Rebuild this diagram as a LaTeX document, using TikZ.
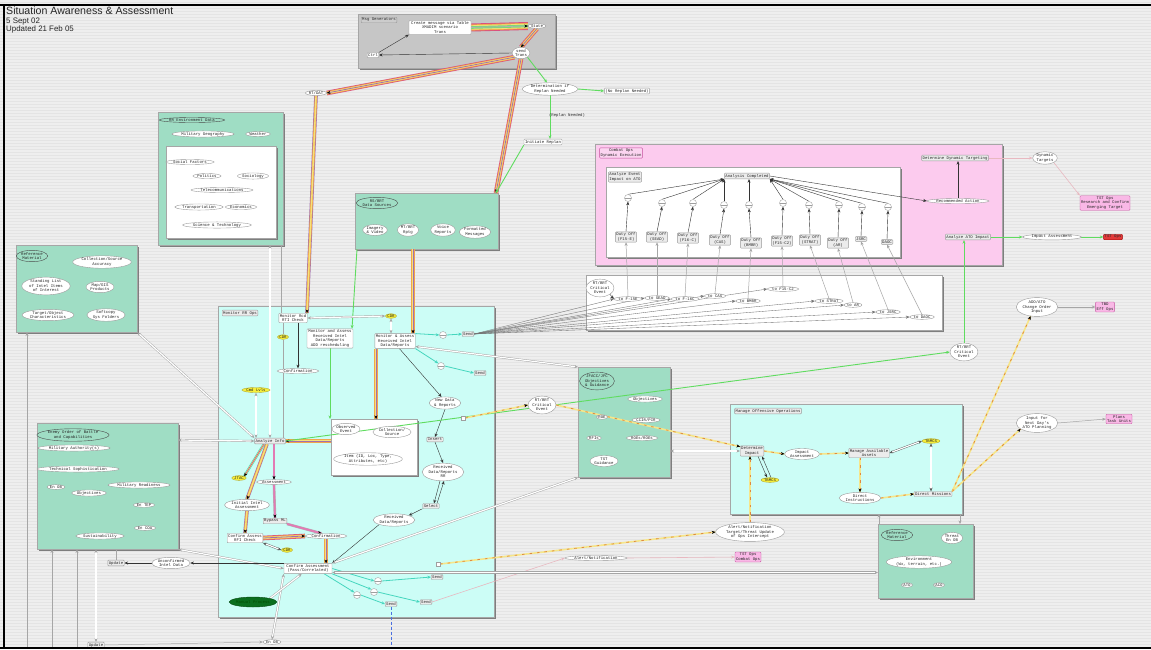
\documentclass[tikz,border=0pt]{standalone}
\usepackage{fontspec}
\newfontfamily\dmono{Liberation Mono}
\newfontfamily\darial{Liberation Sans}
\usetikzlibrary{shapes.geometric,arrows.meta,shadows}
\definecolor{bgc}{HTML}{EEEEEE}
\definecolor{stripe}{HTML}{E4E4E4}
\definecolor{grpg}{HTML}{9FDDC4}
\definecolor{grpc}{HTML}{CCFDF6}
\definecolor{grpp}{HTML}{FCCBEE}
\definecolor{grpgray}{HTML}{C6C6C6}
\definecolor{shd}{HTML}{7E7E7E}
\definecolor{bpink}{HTML}{D9507F}
\definecolor{borange}{HTML}{F2A54A}
\definecolor{byellow}{HTML}{F4E27A}
\definecolor{bpurple}{HTML}{A070B0}
\definecolor{bgreen}{HTML}{7AD77A}
\definecolor{lgreen}{HTML}{5FDC5F}
\definecolor{lcyan}{HTML}{45D6BE}
\definecolor{ylw}{HTML}{F7EF3A}
\definecolor{pnkf}{HTML}{F9B8E6}
\definecolor{pnkd}{HTML}{C4509E}
\definecolor{redf}{HTML}{E23A3A}
\definecolor{faintp}{HTML}{E8B8C0}
\definecolor{dgreen}{HTML}{0B6E1E}
\definecolor{dashy}{HTML}{F6E68A}
\definecolor{dasho}{HTML}{E08A40}
\definecolor{pbar}{HTML}{E27AB4}
\definecolor{bdash}{HTML}{4A6FE0}
\pgfdeclarelayer{bg}
\pgfdeclarelayer{edges}
\pgfsetlayers{bg,edges,main}
\tikzset{
 base/.style={font=\dmono\fontsize{4}{4.5}\selectfont, text=black!85, align=center},
 ov/.style={base, ellipse, draw=gray!80, fill=white, inner sep=0.3pt, line width=.4pt},
 lov/.style={ov, fill=grpg, draw=gray!60!black},
 bx/.style={base, rectangle, rounded corners=.8pt, draw=gray!80, fill=white, inner sep=1pt, line width=.4pt},
 gbx/.style={bx, fill=gray!15},
 yel/.style={ov, fill=ylw, draw=olive!70},
 pnk/.style={bx, fill=pnkf, draw=pnkd},
 sc/.style={circle, draw=gray!75, fill=white, minimum size=7pt, inner sep=0pt, line width=.4pt,
   path picture={\draw[gray!75, line width=.3pt] (path picture bounding box.west) -- (path picture bounding box.east);}},
 sq/.style={rectangle, draw=gray!75, fill=white, minimum size=4pt, inner sep=0pt, line width=.3pt},
 grp/.style={rectangle, draw=gray!70, line width=.4pt, inner sep=0pt, anchor=north west,
   drop shadow={shadow xshift=2pt, shadow yshift=-2pt, fill=shd, opacity=1}},
 tipk/.style={-{Stealth[length=3.6pt,width=3pt]}},
 da/.style={{Stealth[length=3.6pt,width=3pt]}-{Stealth[length=3.6pt,width=3pt]}},
 arr/.style={draw=black!80, line width=.4pt, tipk},
 gl/.style={draw=gray!70, line width=.5pt},
 fan/.style={draw=black!55, line width=.35pt, tipk},
 dbl/.style={draw=gray!70, double=white, double distance=1.2pt, line width=.45pt},
 dblk/.style={draw=black!65, double=white, double distance=1.2pt, line width=.4pt},
 grn/.style={draw=lgreen, line width=.9pt, tipk},
 cyn/.style={draw=lcyan, line width=.8pt, tipk},
 faint/.style={draw=faintp, line width=.6pt, tipk},
 tipp/.style={postaction={draw=black, line width=.4pt, dash pattern=on 0pt off 3000pt, tipk}},
 bundA/.style={draw=bpink, line width=4.6pt, postaction={draw=borange, line width=3.3pt},
   postaction={draw=byellow, line width=2pt}, postaction={draw=bpurple, line width=.8pt}, tipp},
 bundB/.style={draw=bpurple, line width=3.6pt, postaction={draw=borange, line width=2.5pt},
   postaction={draw=byellow, line width=1.3pt}, tipp},
 bundS/.style={draw=lcyan, line width=2.6pt, postaction={draw=byellow, line width=1.5pt},
   postaction={draw=bpink, line width=.6pt}, tipp},
 bundW/.style={draw=bpink, line width=8pt, postaction={draw=borange, line width=6.2pt},
   postaction={draw=byellow, line width=4.4pt}, postaction={draw=bgreen, line width=2.6pt},
   postaction={draw=gray!60, line width=.7pt}, tipp},
 pinkbar/.style={draw=gray!60, line width=2.6pt, postaction={draw=pbar, line width=1.8pt}, tipp},
 dsh/.style={draw=dashy, line width=1.6pt, postaction={draw=dasho, line width=.8pt, dash pattern=on 2.5pt off 5pt}, tipp},
 bluedash/.style={draw=bdash, line width=.9pt, dash pattern=on 3pt off 2pt},
}
\begin{document}
\begin{tikzpicture}[x=1pt,y=-1pt]
\useasboundingbox (0,0) rectangle (1151,649);
\begin{pgfonlayer}{bg}
\fill[bgc] (0,0) rectangle (1151,649);
\foreach \yy in {2,5,...,647} \draw[stripe, line width=.9pt] (0,\yy) -- (1151,\yy);
\node[grp, fill=grpgray, minimum width=197pt, minimum height=54pt] (msgbox) at (358,14) {};
\node[grp, fill=grpg, minimum width=125pt, minimum height=133pt] (envbox) at (158,112) {};
\node[grp, fill=white, minimum width=110pt, minimum height=92pt] (envinner) at (166,146) {};
\node[grp, fill=grpg, minimum width=121pt, minimum height=87pt] (refbox) at (16,245) {};
\node[grp, fill=grpg, minimum width=143pt, minimum height=56pt] (rsbox) at (355,193) {};
\node[grp, fill=grpc, minimum width=276pt, minimum height=311pt] (monbox) at (218,306) {};
\node[grp, fill=white, minimum width=86pt, minimum height=56pt] (obsbox) at (331,419) {};
\node[grp, fill=grpg, minimum width=141pt, minimum height=126pt] (enemybox) at (37,423) {};
\node[grp, fill=grpp, minimum width=407pt, minimum height=121pt] (combox) at (595,144) {};
\node[grp, fill=white, minimum width=294pt, minimum height=90pt] (cominner) at (606,167) {};
\node[grp, fill=white, minimum width=356pt, minimum height=55pt] (tobox) at (586,275) {};
\node[grp, fill=grpg, minimum width=92pt, minimum height=110pt] (jfbox) at (578,367) {};
\node[grp, fill=grpc, minimum width=232pt, minimum height=110pt] (mobox) at (730,404) {};
\node[grp, fill=grpg, minimum width=95pt, minimum height=74pt] (ref2box) at (878,524) {};
\end{pgfonlayer}

% title
\node[anchor=base west, inner sep=0pt, font=\darial\fontsize{10.6}{12}\selectfont, text=black!85] (title) at (6,14.5) {Situation Awareness \& Assessment};
\node[anchor=base west, inner sep=0pt, font=\darial\fontsize{7.9}{9}\selectfont, text=black!85] (date1) at (6,23) {5 Sept 02};
\node[anchor=base west, inner sep=0pt, font=\darial\fontsize{7.9}{9}\selectfont, text=black!85] (date2) at (6,31) {Updated 21 Feb 05};

% message generators
\node[gbx, fill=gray!40] (msglbl) at (379,20) {Msg Generators};
\node[bx, minimum width=62pt] (create) at (440,27.5) {Create message via Table\\XMADIM scenario\\Trans};
\node[ov] (state) at (537,26) {State};
\node[ov] (send) at (521,53) {send\\Trans};
\node[bx] (ctrl) at (373,55) {Ctrl};
\node[ov] (rtdat) at (316,93) {RT/DAT};
\node[ov] (determ) at (550,89) {Determination if\\Replan Needed};
\node[bx] (norep) at (627,91) {(No Replan Needed)};
\node[bx] (initrep) at (543,142) {Initiate Replan};
\node[base] (replbl) at (567,115) {(Replan Needed)};

% environment
\node[lov] (envlbl) at (192,120) {RR Environment Data};
\node[ov] (milgeo) at (203,134) {Military Geography};
\node[ov] (weather) at (258,134) {Weather};
\node[ov] (social) at (190,162) {Social Factors};
\node[ov] (politics) at (207,176) {Politics};
\node[ov] (sociology) at (253,176) {Sociology};
\node[ov] (telecom) at (222,190) {Telecommunications};
\node[ov] (transp) at (199,207) {Transportation};
\node[ov] (econ) at (241,207) {Economics};
\node[ov] (scitech) at (217,225) {Science \& Technology};

% reference material
\node[lov] (reflbl) at (32,256) {Reference\\Material};
\node[ov] (colacc) at (102,262) {Collection/Source\\Accuracy};
\node[ov] (standing) at (46,286) {Standing List\\of Intel Items\\of Interest};
\node[ov] (mapgis) at (100,287) {Map/GIS\\Products};
\node[ov] (tgtobj) at (48,315) {Target/Object\\Characteristics};
\node[ov] (softcopy) at (106,315) {Softcopy\\Sys Folders};

% data sources
\node[lov] (rslbl) at (377,203) {RS/BRT\\Data Sources};
\node[ov] (imagery) at (375,230) {Imagery\\\& Video};
\node[ov] (mtbrt) at (408,230) {MT/BRT\\Rptg};
\node[ov] (voice) at (443,230) {Voice\\Reports};
\node[ov] (fmsg) at (475,232) {Formatted\\Messages};

% monitor RR ops
\node[gbx] (monlbl) at (240,313) {Monitor RR Ops};
\node[bx] (monrcd) at (293,318) {Monitor Rcd\\RTI Check};
\node[yel] (cdra) at (391,316) {CDR};
\node[bx, minimum width=46pt] (monassess1) at (330,338.5) {Monitor and Assess\\Received Intel\\Data/Reports\\ADD rescheduling};
\node[bx] (monassess2) at (395,341) {Monitor \& Assess\\Received Intel\\Data/Reports};
\node[sc] (circ1) at (443,335) {};
\node[gbx] (send1) at (468,334) {Send};
\node[sc] (circ2) at (441,366) {};
\node[gbx] (send2) at (480,373) {Send};
\node[ov] (confirm1) at (298,371) {Confirmation};
\node[yel] (cdrb) at (283,337) {CDR};
\node[yel] (cmdlvls) at (256,390) {Cmd Lvls};
\node[ov] (newdata) at (445,403) {New Data\\\& Reports};
\node[gbx] (insert) at (435,439.5) {Insert};
\node[ov] (recrr) at (443,472) {Received\\Data/Reports\\RR};
\node[gbx] (select) at (431,506) {Select};
\node[ov] (recdata) at (394,520) {Received\\Data/Reports};
\node[ov] (observed) at (346,429) {Observed\\Event};
\node[ov] (colsrc) at (392,432) {Collection/\\Source};
\node[ov] (item) at (368,459) {Item (ID, Loc, Type,\\Attributes, etc)};
\node[gbx] (analyze) at (270,441) {Analyze Info};
\node[yel] (jtac) at (239,478) {JTAC};
\node[ov] (assess) at (274,482) {Assessment};
\node[ov] (initial) at (247,505) {Initial Intel\\Assessment};
\node[gbx] (bypass) at (275,521) {Bypass ML};
\node[bx] (confass) at (245,538) {Confirm Assess\\RFI Check};
\node[yel] (cdrc) at (287,550) {CDR};
\node[ov] (confirm2) at (326,536) {Confirmation};
\node[bx, minimum width=48pt] (ca) at (308,568.5) {Confirm Assessment\\(Pass/Correlated)};
\node[sc] (circa) at (378,581) {};
\node[gbx] (senda) at (437,577) {Send};
\node[sc] (circb) at (374,592) {};
\node[gbx] (sendb) at (426,602) {Send};
\node[sc] (circc) at (357,595) {};
\node[gbx] (sendc) at (391,604) {Send};
\node[base, ellipse, fill=dgreen, draw=dgreen!70!black, text=green!30!black, minimum width=47pt, minimum height=10pt, inner sep=0pt] (manual) at (253,602) {Manual Process};
\node[sq] (sq1) at (463,418) {};
\node[sq] (sq2) at (438,564) {};
\node[ov] (rtbrt1) at (542,405) {RT/BRT\\Critical\\Event};

% enemy order of battle
\node[lov] (enlbl) at (73,435) {Enemy Order of Battle\\and Capabilities};
\node[ov] (milauth) at (74,448) {Military Authority(s)};
\node[ov] (techsoph) at (78,469) {Technical Sophistication};
\node[ov] (enob1) at (56,487) {En OB};
\node[ov] (objectives1) at (89,493) {Objectives};
\node[ov] (milready) at (139,485) {Military Readiness};
\node[ov] (entep) at (144,505) {En TEP};
\node[ov] (encoa) at (145,528) {En COA};
\node[ov] (sustain) at (100,536) {Sustainability};
\node[ov] (unconf) at (171,563) {Unconfirmed\\Intel Data};
\node[gbx] (update1) at (116,563) {Update};
\node[gbx] (update2) at (96,645) {Update};
\node[ov] (enob2) at (272,642) {En OB};

% combat ops
\node[pnk, fill=pnkf!60] (comlbl) at (621,153) {Combat Ops\\Dynamic Execution};
\node[gbx] (aei) at (625,177) {Analyze Event\\Impact on ATO};
\node[gbx] (anacomp) at (747,176) {Analysis Completed};
\foreach \i/\cx/\cy/\dx/\dy/\dl/\tx/\ty/\tl in {
 1/628/198/626/237/{Duty Off\\(F15-E)}/628/299/{to F-15E},
 2/662/203/657/237/{Duty Off\\(SEAD)}/657/298/{to SEAD},
 3/693/203/688/238/{Duty Off\\(F16-C)}/685/299/{to F-16C},
 4/724/205/720/240/{Duty Off\\(CAS)}/715/296/{to CAS},
 5/749/205/751/243/{Duty Off\\(BMBR)}/748/301/{to BMBR},
 6/783/203/782/241/{Duty Off\\(F15-C2)}/783/289/{to F15-C2},
 7/809/205/810/240/{Duty Off\\(STRAT)}/829/301/{to STRAT},
 8/839/205/838/243/{Duty Off\\(AR)}/853/305/{to AR},
 9/862/207/861/239/{JSRC}/888/312/{to JSRC},
 10/888/207/887/242/{DAOC}/922/317/{to DAOC}} {
  \node[sc] (c\i) at (\cx,\cy) {};
  \node[gbx] (d\i) at (\dx,\dy) {\dl};
  \node[ov] (t\i) at (\tx,\ty) {\tl};
}
\node[ov] (recact) at (958,201) {Recommended Action};
\node[gbx] (detdyn) at (955,158) {Determine Dynamic Targeting};
\node[gbx] (anaato) at (968,237) {Analyze ATO Impact};
\node[ov] (dyntgt) at (1045,158) {Dynamic\\Targets};
\node[pnk] (tstres) at (1105,203) {TST Ops\\Research and Confirm\\Emerging Target};
\node[ov] (impass2) at (1052,237) {Impact Assessment};
\node[bx, fill=redf, draw=red!60!black] (tstops) at (1113,237) {TST Ops};
\node[ov] (rtbrt2) at (600,288) {RT/BRT\\Critical\\Event};

% JFACC
\node[lov] (jflbl) at (597,381) {JFACC/JFC\\Objectives\\\& Guidance};
\node[ov] (jfobj) at (645,399) {Objectives};
\node[ov] (roe) at (602,417) {ROE};
\node[ov] (ccir) at (646,420) {CCIR/PIR};
\node[ov] (rfis) at (594,438) {RFIs};
\node[ov] (roes) at (642,438) {ROEs/ROEs};
\node[ov] (tstg) at (604,461) {TST\\Guidance};

% manage offensive operations
\node[gbx] (molbl) at (768,411) {Manage Offensive Operations};
\node[gbx] (detimp) at (752,451) {Determine\\Impact};
\node[yel] (tbmcs1) at (770,480) {TBMCS};
\node[ov] (impass1) at (802,454) {Impact\\Assessment};
\node[gbx] (manavail) at (869,453) {Manage Available\\Assets};
\node[yel] (tbmcs2) at (931,441) {TBMCS};
\node[ov] (dirinst) at (860,498) {Direct\\Instructions};
\node[gbx] (dirmis) at (933,494) {Direct Missions};

% right side
\node[ov] (rtbrt3) at (964,352) {RT/BRT\\Critical\\Event};
\node[ov] (adoato) at (1037,307) {ADO/ATO\\Change Order\\Input};
\node[pnk] (tbd) at (1105,307) {TBD\\Eff Ops};
\node[ov] (nextday) at (1037,423) {Input for\\Next Day's\\ATO Planning};
\node[pnk] (plans) at (1119,419) {Plans\\Task Units};
\node[ov] (alerttgt) at (750,532) {Alert/Notification\\Target/Threat Update\\of Ops Intercept};
\node[ov] (alert) at (596,558) {Alert/Notification};
\node[pnk] (tstcombat) at (748,557) {TST Ops\\Combat Ops};

% reference material 2
\node[lov] (ref2lbl) at (897,535) {Reference\\Material};
\node[ov] (threat) at (952,538) {Threat\\En OB};
\node[ov] (environ) at (919,562) {Environment\\(Wx, terrain, etc.)};
\node[ov] (ato) at (907,585) {ATO};
\node[ov] (aco) at (939,585) {ACO};

% attach points
\coordinate (envS1) at (270,245);
\coordinate (envS2) at (281,245);
\coordinate (rsS1) at (357,249);
\coordinate (rsS2) at (413,249);
\coordinate (rsNE) at (496,193);
\coordinate (obsN2) at (376,419);
\coordinate (enE) at (178,440);
\coordinate (r2W) at (878,572.5);
\coordinate (bot1) at (391,649);
\coordinate (b27) at (27,649);
\coordinate (b52) at (52,649);
\coordinate (b77) at (77,649);
\coordinate (moS1) at (879,514);
\coordinate (moS2) at (960,514);

\begin{pgfonlayer}{edges}
% top
\draw[bundW] (create.east) -- (state.west);
\draw[bundA] (state.south) -- (send.north);
\draw[arr] (send.west) -- (ctrl.east);
\draw[arr] (ctrl.north east) -- (create.south west);
\draw[bundA] (send.south west) -- (rtdat.east);
\draw[bundA] (send.south) -- (rsNE);
\draw[grn] (send.south east) -- (determ.115);
\draw[grn] (determ.east) -- (norep.west);
\draw[grn] (determ.south) -- (determ.south |- initrep.north);
\draw[grn] (initrep.south west) -- (rsNE);
\draw[bundB] (rtdat.south) -- ([xshift=14pt]monrcd.north);
% data sources
\draw[grn] (rsS1) -- ([xshift=22pt]monassess1.north);
\draw[bundA] (rsS2) -- (monassess2.north -| rsS2);
% environment
\draw[dbl, da] (envS1) -- (analyze.north -| envS1);
\draw[gl] (envS2) -- (monrcd.north -| envS2);
\draw[gl] (monrcd.south -| cdrb) -- (cdrb.north);
\draw[gl] (cdrb.south) -- (analyze.north -| cdrb);
\draw[dbl, da] (cmdlvls.south) -- (analyze.north -| cmdlvls);
% monitor ops
\draw[dbl, da] (monrcd.east) -- (cdra.west);
\draw[dbl, da] (cdra.south) -- (cdra.south |- monassess2.north);
\draw[arr] (monrcd.south -| confirm1) -- (confirm1.north);
\draw[grn] (monassess1.south) -- (monassess1.south |- obsbox.north);
\draw[bundA] (monassess2.south -| obsN2) -- (obsN2);
\draw[cyn] (monassess2.20) -- (circ1.west);
\draw[cyn] (circ1.east) -- (send1.west);
\draw[cyn] (monassess2.south east) -- (circ2.north west);
\draw[cyn] (circ2.east) -- (send2.west);
\draw[arr] (monassess2.-60) -- (newdata.120);
\draw[arr] (newdata.south) -- (insert.north);
\draw[arr] (insert.south) -- (recrr.north);
\draw[arr] ([xshift=-3pt]recrr.south) -- ([xshift=3pt]select.north);
\draw[arr] ([xshift=6pt]select.north) -- ([xshift=1pt]recrr.south);
\draw[arr] (select.south west) -- (recdata.north east);
\draw[arr] (recdata.south west) -- (ca.north east);
\draw[bundA] (obsbox.west |- analyze) -- (analyze.east);
\draw[grn] (analyze.east) -- (rtbrt3.west);
\draw[dsh] (sq1.east) -- (rtbrt1.west);
\draw[dsh] (rtbrt1.east) -- (detimp.160);
\draw[dbl, da] (enE) -- (analyze.west);
\draw[dbl, da] (refbox.south east) -- (analyze.north west);
\draw[bundS] ([xshift=-6pt]analyze.south) -- (jtac.north east);
\draw[pinkbar] (analyze.south -| assess) -- (assess.north);
\draw[pinkbar] (assess.south) -- (bypass.north);
\draw[pinkbar] (bypass.south east) -- (confirm2.150);
\draw[bundB] ([xshift=-3pt]analyze.south) -- (initial.north);
\draw[bundB] (initial.south) -- (confass.north);
\draw[bundA] (confass.east) -- (confirm2.west);
\draw[dblk, da] (confass.south east) -- (cdrc.west);
\draw[bundA] (confirm2.south) -- (confirm2.south |- ca.north);
\draw[cyn] (ca.east) -- (circa.west);
\draw[cyn] (circa.east) -- (senda.west);
\draw[cyn] (ca.south east) -- (circb.north west);
\draw[cyn] (circb.east) -- (sendb.west);
\draw[cyn] ([xshift=-8pt]ca.south east) -- (circc.north west);
\draw[cyn] (circc.east) -- (sendc.west);
\draw[bluedash] (sendc.south) -- (bot1);
\draw[faint] (sendb.east) -- (alert.west);
\draw[dsh] (sq2.east) -- (alerttgt.west);
\draw[dsh] (alerttgt.north) -- (alerttgt.north |- detimp.south);
\draw[faint] (alert.east) -- (tstcombat.west);
\draw[dbl, da] (ca.east |- r2W) -- (r2W);
\draw[dbl, da] (ca.north east) -- (jfbox.south west);
\draw[dbl, da] (monassess2.-15) -- (jfbox.north west);
\draw[dbl, da] (ca.west) -- (enemybox.south east);
\draw[arr] (unconf.east -| ca.west) -- (unconf.east);
\draw[arr] (unconf.west) -- (update1.east);
\draw[gl] (update1.north) -- (update1.north |- enemybox.south);
\draw[gl, tipk] (b27) -- (b27 |- refbox.south);
\draw[gl, tipk] (b52) -- (b52 |- enemybox.south);
\draw[gl, tipk] (b77) -- (b77 |- enemybox.south);
\draw[dbl, da] (update2.north |- enemybox.south) -- (update2.north);
\draw[gl, tipk] (update2.east) -- (enob2.west);
\draw[dbl, da] (enob2.north) -- (ca.south west);
\draw[dbl, tipk] (manual.north east) -- (ca.220);
% combat ops
\foreach \i in {1,...,10} {
  \draw[arr] (d\i.north) -- (c\i.south);
  \draw[gl, tipk] (t\i.north) -- (d\i.south);
  \draw[fan] (send1.east) -- (t\i.west);
}
\foreach \i in {1,2,3} \draw[arr] (c\i.north) -- (anacomp.south west);
\foreach \i in {6,...,10} \draw[arr] (c\i.north) -- (anacomp.south east);
\draw[arr] (c4.north) -- (c4.north |- anacomp.south);
\draw[arr] (c5.north) -- (c5.north |- anacomp.south);
\draw[arr] (anacomp.east) -- (recact.west);
\draw[arr] (recact.north) -- (recact.north |- detdyn.south);
\draw[faint] (detdyn.east) -- (dyntgt.west);
\draw[faint] (dyntgt.south east) -- (tstres.north west);
\draw[grn] (anaato.east) -- (impass2.west);
\draw[grn] (impass2.east) -- (tstops.west);
\draw[grn] (rtbrt3.north) -- (rtbrt3.north |- anaato.south);
\draw[arr] (rtbrt2.south east) -- (t1.west);
% manage offensive ops
\draw[gl, tipk] (moS1 |- ref2box.north) -- (moS1);
\draw[gl, tipk] (moS2) -- (moS2 |- ref2box.north);
\draw[dbl, da] (jfbox.east |- detimp) -- (detimp.west);
\draw[arr] ([xshift=6pt]detimp.south) -- ([xshift=-3pt]tbmcs1.north);
\draw[arr] ([xshift=1pt]tbmcs1.north) -- ([xshift=10pt]detimp.south);
\draw[dsh] (detimp.east) -- (impass1.west);
\draw[dsh] (impass1.east) -- (manavail.west);
\draw[dblk, da] (manavail.east) -- (tbmcs2.west);
\draw[dsh] (manavail.south -| dirinst) -- (dirinst.north);
\draw[dsh] (dirinst.east) -- (dirmis.west);
\draw[dblk, da] (tbmcs2.south) -- (tbmcs2.south |- dirmis.north);
\draw[dsh] (dirmis.north east) -- (adoato.235);
\draw[dsh] (dirmis.north east) -- (nextday.200);
\draw[gl, tipk] (adoato.east) -- (tbd.west);
\draw[gl, tipk] (nextday.east) -- (plans.west);
\end{pgfonlayer}

% frame
\draw[black, line width=2.5pt] (0,5) -- (1151,5);
\draw[black, line width=2.5pt] (4,5) -- (4,649);
\draw[black, line width=2pt] (0,648) -- (1151,648);
\end{tikzpicture}
\end{document}
